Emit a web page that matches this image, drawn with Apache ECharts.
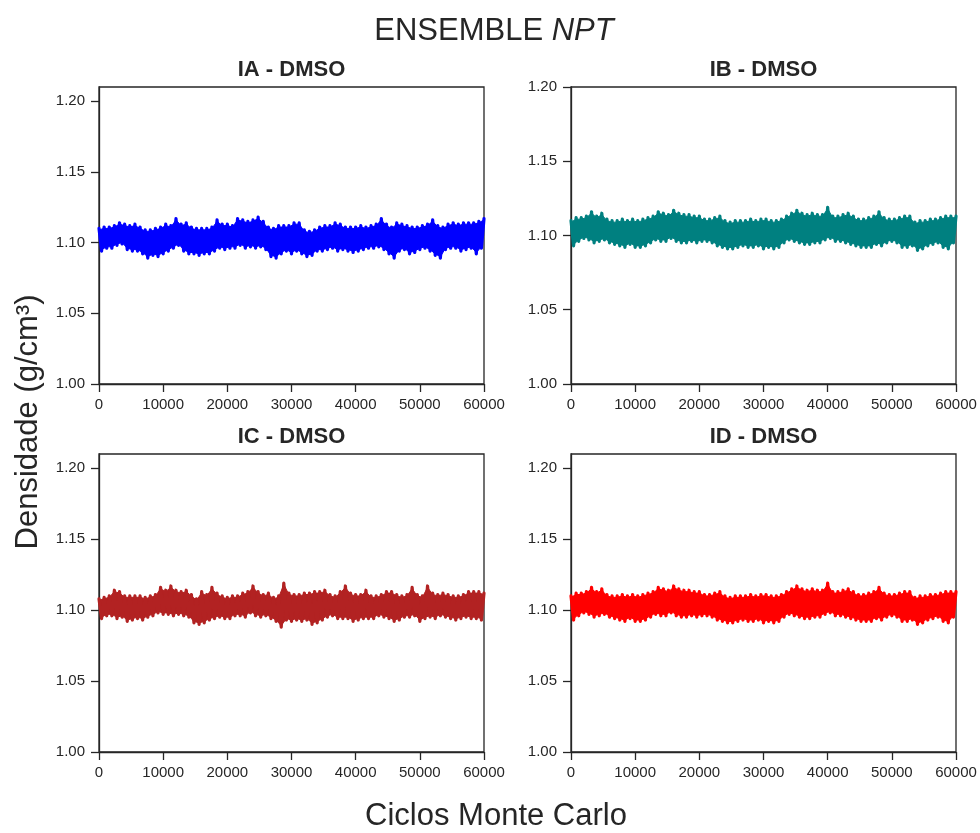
<!DOCTYPE html>
<html><head><meta charset="utf-8">
<script src="https://cdn.jsdelivr.net/npm/echarts@6/dist/echarts.min.js"></script>
<style>html,body{margin:0;padding:0;background:#fff}#c{width:980px;height:833px}</style>
</head><body><div id="c"></div>
<script>
// ---- data (density in g/cm3 sampled every 400 Monte Carlo cycles; even samples = upper swings, odd = lower swings)
const cycleStep = 400;
const xTickValues = [0, 10000, 20000, 30000, 40000, 50000, 60000];
const yTickValues = [1.00, 1.05, 1.10, 1.15, 1.20];
const panelTitles = ['IA - DMSO', 'IB - DMSO', 'IC - DMSO', 'ID - DMSO'];
const panelColors = ['#0000ff', '#008080', '#b22222', '#ff0000'];
const panelYMax = [1.21, 1.20, 1.21, 1.21];

const iaHi = [1.110,1.111,1.111,1.112,1.114,1.113,1.112,1.113,1.111,1.109,
  1.109,1.110,1.111,1.113,1.112,1.117,1.113,1.114,1.111,1.110,
  1.110,1.110,1.111,1.116,1.113,1.113,1.112,1.117,1.116,1.115,
  1.116,1.118,1.115,1.111,1.110,1.112,1.112,1.112,1.114,1.114,
  1.109,1.108,1.109,1.111,1.112,1.112,1.114,1.113,1.111,1.111,
  1.111,1.112,1.111,1.112,1.113,1.117,1.113,1.111,1.114,1.113,
  1.112,1.111,1.111,1.112,1.113,1.116,1.112,1.111,1.113,1.114,
  1.113,1.114,1.114,1.114,1.115,1.117];
const iaLo = [1.094,1.096,1.096,1.098,1.099,1.095,1.094,1.094,1.092,1.089,
  1.091,1.090,1.092,1.094,1.096,1.098,1.094,1.092,1.092,1.091,
  1.092,1.092,1.094,1.096,1.095,1.096,1.096,1.098,1.096,1.097,
  1.096,1.097,1.095,1.090,1.089,1.092,1.094,1.092,1.094,1.092,
  1.090,1.091,1.094,1.094,1.095,1.096,1.094,1.095,1.094,1.093,
  1.094,1.095,1.096,1.096,1.097,1.095,1.092,1.089,1.094,1.095,
  1.092,1.093,1.095,1.096,1.094,1.091,1.089,1.095,1.096,1.096,
  1.094,1.095,1.096,1.092,1.096];

const ibHi = [1.110,1.112,1.112,1.113,1.116,1.113,1.115,1.111,1.110,1.110,
  1.111,1.110,1.111,1.110,1.111,1.112,1.113,1.116,1.115,1.114,
  1.117,1.115,1.114,1.114,1.113,1.113,1.111,1.111,1.112,1.113,
  1.110,1.109,1.110,1.110,1.110,1.111,1.110,1.111,1.111,1.110,
  1.110,1.111,1.113,1.115,1.117,1.115,1.114,1.115,1.114,1.114,
  1.119,1.113,1.113,1.114,1.115,1.113,1.111,1.111,1.112,1.113,
  1.116,1.112,1.111,1.111,1.112,1.113,1.113,1.109,1.110,1.110,
  1.111,1.111,1.112,1.113,1.113,1.113];
const ibLo = [1.093,1.096,1.098,1.097,1.095,1.096,1.097,1.095,1.094,1.093,
  1.092,1.094,1.092,1.092,1.093,1.095,1.097,1.096,1.096,1.098,
  1.096,1.095,1.095,1.096,1.095,1.096,1.096,1.095,1.093,1.092,
  1.091,1.091,1.092,1.093,1.092,1.092,1.093,1.091,1.092,1.091,
  1.092,1.095,1.097,1.096,1.095,1.094,1.094,1.095,1.095,1.097,
  1.098,1.096,1.096,1.095,1.094,1.093,1.092,1.092,1.092,1.094,
  1.093,1.095,1.096,1.095,1.092,1.092,1.093,1.090,1.091,1.093,
  1.094,1.095,1.092,1.091,1.095];

const icHi = [1.108,1.109,1.110,1.114,1.113,1.110,1.110,1.110,1.110,1.109,
  1.110,1.111,1.116,1.114,1.117,1.114,1.113,1.114,1.111,1.108,
  1.113,1.111,1.116,1.112,1.110,1.109,1.110,1.110,1.112,1.113,
  1.117,1.113,1.111,1.112,1.109,1.110,1.119,1.112,1.111,1.111,
  1.112,1.112,1.113,1.113,1.114,1.111,1.110,1.113,1.117,1.112,
  1.111,1.111,1.114,1.110,1.110,1.111,1.113,1.113,1.111,1.110,
  1.111,1.116,1.111,1.110,1.117,1.112,1.111,1.112,1.111,1.110,
  1.110,1.111,1.113,1.113,1.113,1.112];
const icLo = [1.094,1.096,1.096,1.094,1.095,1.092,1.093,1.094,1.093,1.095,
  1.096,1.098,1.097,1.097,1.096,1.097,1.096,1.095,1.091,1.090,
  1.091,1.093,1.094,1.095,1.094,1.094,1.096,1.096,1.095,1.098,
  1.096,1.095,1.096,1.094,1.092,1.088,1.093,1.092,1.093,1.092,
  1.093,1.090,1.091,1.093,1.095,1.096,1.094,1.094,1.094,1.092,
  1.093,1.094,1.094,1.094,1.096,1.095,1.094,1.092,1.093,1.095,
  1.095,1.096,1.092,1.094,1.095,1.094,1.096,1.095,1.094,1.093,
  1.094,1.095,1.094,1.094,1.093];

const idHi = [1.110,1.112,1.112,1.113,1.116,1.113,1.115,1.111,1.110,1.110,
  1.111,1.110,1.111,1.110,1.111,1.112,1.113,1.116,1.115,1.114,
  1.117,1.115,1.114,1.114,1.113,1.113,1.111,1.111,1.112,1.113,
  1.110,1.109,1.110,1.110,1.110,1.111,1.110,1.111,1.111,1.110,
  1.110,1.111,1.113,1.115,1.117,1.115,1.114,1.115,1.114,1.114,
  1.119,1.113,1.113,1.114,1.115,1.113,1.111,1.111,1.112,1.113,
  1.116,1.112,1.111,1.111,1.112,1.113,1.113,1.109,1.110,1.110,
  1.111,1.111,1.112,1.113,1.113,1.113];
const idLo = [1.093,1.096,1.098,1.097,1.095,1.096,1.097,1.095,1.094,1.093,
  1.092,1.094,1.092,1.092,1.093,1.095,1.097,1.096,1.096,1.098,
  1.096,1.095,1.095,1.096,1.095,1.096,1.096,1.095,1.093,1.092,
  1.091,1.091,1.092,1.093,1.092,1.092,1.093,1.091,1.092,1.091,
  1.092,1.095,1.097,1.096,1.095,1.094,1.094,1.095,1.095,1.097,
  1.098,1.096,1.096,1.095,1.094,1.093,1.092,1.092,1.092,1.094,
  1.093,1.095,1.096,1.095,1.092,1.092,1.093,1.090,1.091,1.093,
  1.094,1.095,1.092,1.091,1.095];

const panelHi = [iaHi, ibHi, icHi, idHi];
const panelLo = [iaLo, ibLo, icLo, idLo];

function trace(hi, lo) {
  const out = [];
  const n = hi.length + lo.length;
  for (let i = 0; i < n; i++) {
    out.push([i * cycleStep, i % 2 === 0 ? hi[i / 2] : lo[(i - 1) / 2]]);
  }
  return out;
}
// body of the band: upper samples left→right, then lower samples right→left,
// drawn a hair inside so the individual swings still show at the edges
const bodyInset = 0.001;
function outline(hi, lo) {
  const up = hi.map((v, k) => [2 * k * cycleStep, v - bodyInset]);
  const down = lo.map((v, k) => [(2 * k + 1) * cycleStep, v + bodyInset]).reverse();
  return up.concat(down);
}

// ---- layout / style
const FONT = 'Liberation Sans, Arial, sans-serif';
const INK = '#262626';
const gridBoxes = [
  {left: 99, top: 87, width: 385, height: 297},
  {left: 571, top: 87, width: 385, height: 297},
  {left: 99, top: 454, width: 385, height: 298},
  {left: 571, top: 454, width: 385, height: 298}
];

const grids = gridBoxes.map(g => Object.assign({show: true, borderColor: INK, borderWidth: 1.3, backgroundColor: '#fff', containLabel: false}, g));
const xAxes = gridBoxes.map((g, i) => ({
  gridIndex: i, type: 'value', min: 0, max: 60000, interval: 10000,
  axisLine: {show: true, onZero: false, lineStyle: {color: INK, width: 1.3}},
  axisTick: {show: true, inside: false, length: 8, lineStyle: {color: INK, width: 1.3}},
  axisLabel: {color: INK, fontSize: 15, fontFamily: FONT, margin: 13, showMinLabel: true, showMaxLabel: true, hideOverlap: false,
    formatter: v => String(Math.round(v))},
  splitLine: {show: false}
}));
const yAxes = gridBoxes.map((g, i) => ({
  gridIndex: i, type: 'value', min: 1.00, max: panelYMax[i], interval: 0.05,
  axisLine: {show: true, onZero: false, lineStyle: {color: INK, width: 1.3}},
  axisTick: {show: true, inside: false, length: 8, lineStyle: {color: INK, width: 1.3}, customValues: yTickValues},
  axisLabel: {color: INK, fontSize: 15, fontFamily: FONT, margin: 14, customValues: yTickValues,
    formatter: v => Number(v).toFixed(2)},
  splitLine: {show: false}
}));

const series = [];
gridBoxes.forEach((g, i) => {
  const shape = outline(panelHi[i], panelLo[i]);
  series.push({
    type: 'custom', xAxisIndex: i, yAxisIndex: i, animation: false, silent: true,
    data: [0],
    renderItem: (params, api) => ({
      type: 'polygon',
      shape: {points: shape.map(p => api.coord(p))},
      style: {fill: panelColors[i], stroke: panelColors[i], lineWidth: 1}
    })
  });
  series.push({
    type: 'line', xAxisIndex: i, yAxisIndex: i,
    data: trace(panelHi[i], panelLo[i]),
    showSymbol: false, symbol: 'none', animation: false,
    lineStyle: {color: panelColors[i], width: 3.2, cap: 'round', join: 'round'}
  });
});

const texts = [
  {type: 'text', x: 494, y: 31, style: {text: 'ENSEMBLE {i|NPT}', fill: INK, font: '31px ' + FONT,
    rich: {i: {fontStyle: 'italic', fontSize: 31, fontFamily: FONT, fill: INK}},
    textAlign: 'center', textVerticalAlign: 'middle'}},
  {type: 'text', x: 496, y: 816, style: {text: 'Ciclos Monte Carlo', fill: INK, font: '31px ' + FONT,
    textAlign: 'center', textVerticalAlign: 'middle'}},
  {type: 'text', x: 28, y: 422, rotation: Math.PI / 2, style: {text: 'Densidade (g/cm³)', fill: INK, font: '31px ' + FONT,
    textAlign: 'center', textVerticalAlign: 'middle'}}
];
gridBoxes.forEach((g, i) => {
  texts.push({type: 'text', x: g.left + g.width / 2, y: g.top - 17,
    style: {text: panelTitles[i], fill: INK, font: 'bold 22px ' + FONT, textAlign: 'center', textVerticalAlign: 'middle'}});
});

const chart = echarts.init(document.getElementById('c'), null, {renderer: 'canvas'});
chart.setOption({
  backgroundColor: '#ffffff',
  animation: false,
  grid: grids, xAxis: xAxes, yAxis: yAxes, series: series,
  graphic: texts
});
</script>
</body></html>
